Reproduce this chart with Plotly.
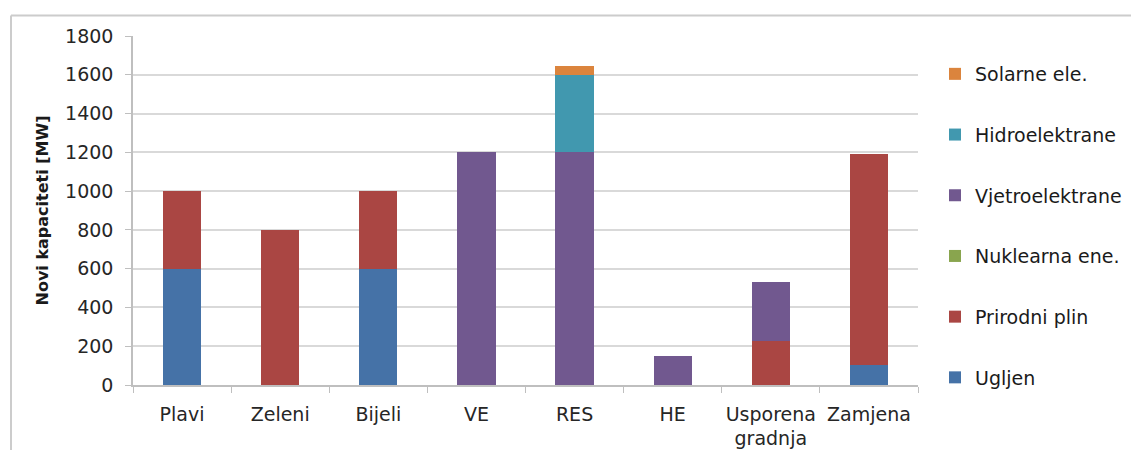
import plotly.graph_objects as go

categories = ["Plavi", "Zeleni", "Bijeli", "VE", "RES", "HE", "Usporena<br>gradnja", "Zamjena"]

series_names = ["Ugljen", "Prirodni plin", "Nuklearna ene.", "Vjetroelektrane", "Hidroelektrane", "Solarne ele."]
ugljen = [600, 0, 600, 0, 0, 0, 0, 105]
prirodni_plin = [400, 800, 400, 0, 0, 0, 225, 1085]
nuklearna = [0, 0, 0, 0, 0, 0, 0, 0]
vjetro = [0, 0, 0, 1200, 1200, 150, 305, 0]
hidro = [0, 0, 0, 0, 400, 0, 0, 0]
solarne = [0, 0, 0, 0, 45, 0, 0, 0]
colors = ["#4572A7", "#AA4643", "#89A54E", "#71588F", "#4198AF", "#DB843D"]

y_ticks = [0, 200, 400, 600, 800, 1000, 1200, 1400, 1600, 1800]

values = [ugljen, prirodni_plin, nuklearna, vjetro, hidro, solarne]

FONT = "DejaVu Sans, sans-serif"

fig = go.Figure()
n = len(series_names)
for i, (name, vals, col) in enumerate(zip(series_names, values, colors)):
    fig.add_trace(go.Bar(
        x=categories, y=vals, name=name, legendgroup=name,
        legendrank=n - i,
        marker=dict(color=col, line=dict(width=0)),
    ))

# page has an 8px body offset
OFF = 8
W, H = 1139 - OFF, 450 - OFF
L, R, T, B = 133 - OFF, 918 - OFF, 36 - OFF, 385 - OFF
pw, ph = R - L, B - T

def px_x(x):
    return (x - OFF - L) / pw

def px_y(y):
    return (B - (y - OFF)) / ph

fig.update_layout(
    width=W, height=H,
    barmode="stack",
    bargap=0.61,
    plot_bgcolor="white",
    paper_bgcolor="white",
    margin=dict(l=L, r=W - R, t=T, b=H - B, pad=0, autoexpand=False),
    font=dict(family=FONT, size=17, color="#262626"),
    legend=dict(
        traceorder="grouped",
        tracegroupgap=33,
        x=px_x(935), xanchor="left",
        y=px_y(55), yanchor="top",
        font=dict(size=19, color="#1a1a1a"),
        itemwidth=30,
        bgcolor="rgba(0,0,0,0)",
    ),
    xaxis=dict(
        showgrid=False,
        showline=True, linecolor="#bfbfbf", linewidth=1.5,
        ticks="outside", tickson="boundaries", ticklen=6, tickcolor="#bfbfbf",
        tickfont=dict(size=19, color="#262626"),
        tickangle=0,
        automargin=False,
        ticklabelstandoff=11,
    ),
    yaxis=dict(
        range=[0, 1800],
        tickvals=y_ticks,
        showgrid=True, gridcolor="#d9d9d9", gridwidth=1.5,
        showline=True, linecolor="#bfbfbf", linewidth=1.5,
        ticks="outside", ticklen=6, tickcolor="#bfbfbf",
        tickfont=dict(size=19, color="#262626"),
        ticklabelstandoff=8,
        automargin=False,
        zeroline=False,
        title=dict(text="<b>Novi kapaciteti [MW]</b>", font=dict(size=16, color="#1a1a1a"), standoff=12),
    ),
    shapes=[
        dict(type="line", xref="paper", yref="paper",
             x0=px_x(11), x1=px_x(1139), y0=px_y(15.5), y1=px_y(15.5),
             line=dict(color="#cccccc", width=2)),
        dict(type="line", xref="paper", yref="paper",
             x0=px_x(11), x1=px_x(11), y0=px_y(15.5), y1=px_y(450),
             line=dict(color="#cccccc", width=2)),
    ],
)

fig.write_html("out.html")
